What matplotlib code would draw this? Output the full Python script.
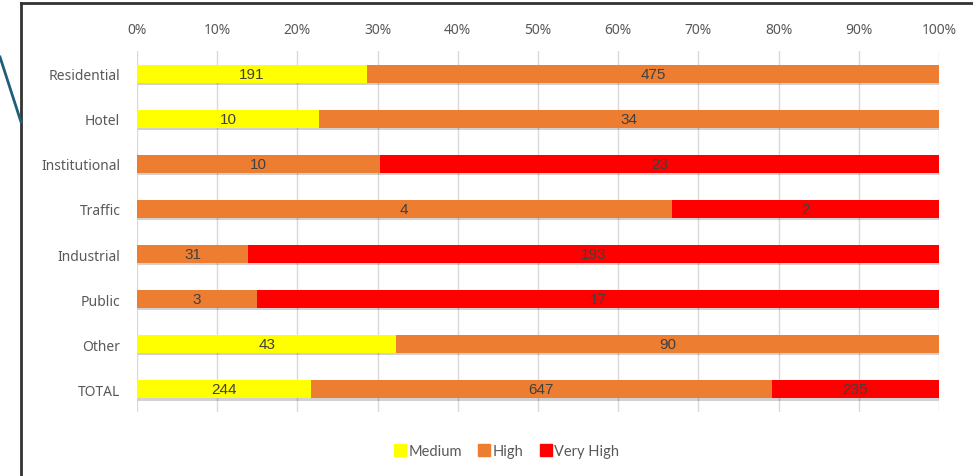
import matplotlib.pyplot as plt
import matplotlib.patheffects as pe
from matplotlib.lines import Line2D
import numpy as np

categories = ['Residential', 'Hotel', 'Institutional', 'Traffic', 'Industrial', 'Public', 'Other', 'TOTAL']
medium = [191, 10, 0, 0, 0, 0, 43, 244]
high = [475, 34, 10, 4, 31, 3, 90, 647]
very_high = [0, 0, 23, 2, 193, 17, 0, 235]
series_names = ['Medium', 'High', 'Very High']
colors = ['#FFFF00', '#ED7D31', '#FF0000']

plt.rcParams['font.family'] = ['Lato', 'DejaVu Sans']

fig = plt.figure(figsize=(9.73, 4.77), dpi=100)
ax = fig.add_axes([137 / 973, 1 - 413 / 477, (939 - 137) / 973, (413 - 52) / 477])

data = np.array([medium, high, very_high], dtype=float)
totals = data.sum(axis=0)
shares = data / totals * 100

y = np.arange(len(categories))
left = np.zeros(len(categories))
shadow = [pe.SimplePatchShadow(offset=(0.8, -1.5), shadow_rgbFace='#000000', alpha=0.18), pe.Normal()]
for i in range(3):
    ax.barh(y, shares[i], left=left, height=0.4, color=colors[i],
            label=series_names[i], zorder=3, path_effects=shadow)
    for j in range(len(categories)):
        if data[i][j] > 0:
            ax.text(left[j] + shares[i][j] / 2, y[j], str(int(data[i][j])),
                    ha='center', va='center', fontsize=11, color='#404040',
                    family='Liberation Sans', zorder=4)
    left = left + shares[i]

ax.set_xlim(0, 100)
ax.set_ylim(7.5, -0.5)
ax.set_yticks(y)
ax.set_yticklabels(categories, family='Noto Sans')
ax.set_xticks(np.arange(0, 101, 10))
ax.set_xticklabels([f'{v}%' for v in range(0, 101, 10)], family='Noto Sans')
ax.xaxis.tick_top()
ax.tick_params(length=0, labelsize=10, labelcolor='#595959')
ax.tick_params(axis='x', pad=10)
ax.tick_params(axis='y', pad=12)
ax.grid(axis='x', color='#D9D9D9', linewidth=1, zorder=0)
for s in ax.spines.values():
    s.set_visible(False)

handles = [Line2D([], [], marker='s', linestyle='', color=c, markersize=8) for c in colors]
fig.legend(handles, series_names, loc='center', bbox_to_anchor=(506 / 973, 1 - 452 / 477),
           ncol=3, frameon=False, fontsize=10.5, labelcolor='#595959',
           handletextpad=0.1, columnspacing=1.0, handlelength=1.0)

# frame of the pasted chart and the stray connector line
fig.add_artist(Line2D([21 / 973, 21 / 973], [0, 1 - 4 / 477], color='#333333', linewidth=2))
fig.add_artist(Line2D([21 / 973, 1], [1 - 4 / 477, 1 - 4 / 477], color='#333333', linewidth=2))
fig.add_artist(Line2D([0, 21 / 973], [1 - 58 / 477, 1 - 123 / 477], color='#1F5F7A', linewidth=2))

plt.savefig('out.png', dpi=100)
